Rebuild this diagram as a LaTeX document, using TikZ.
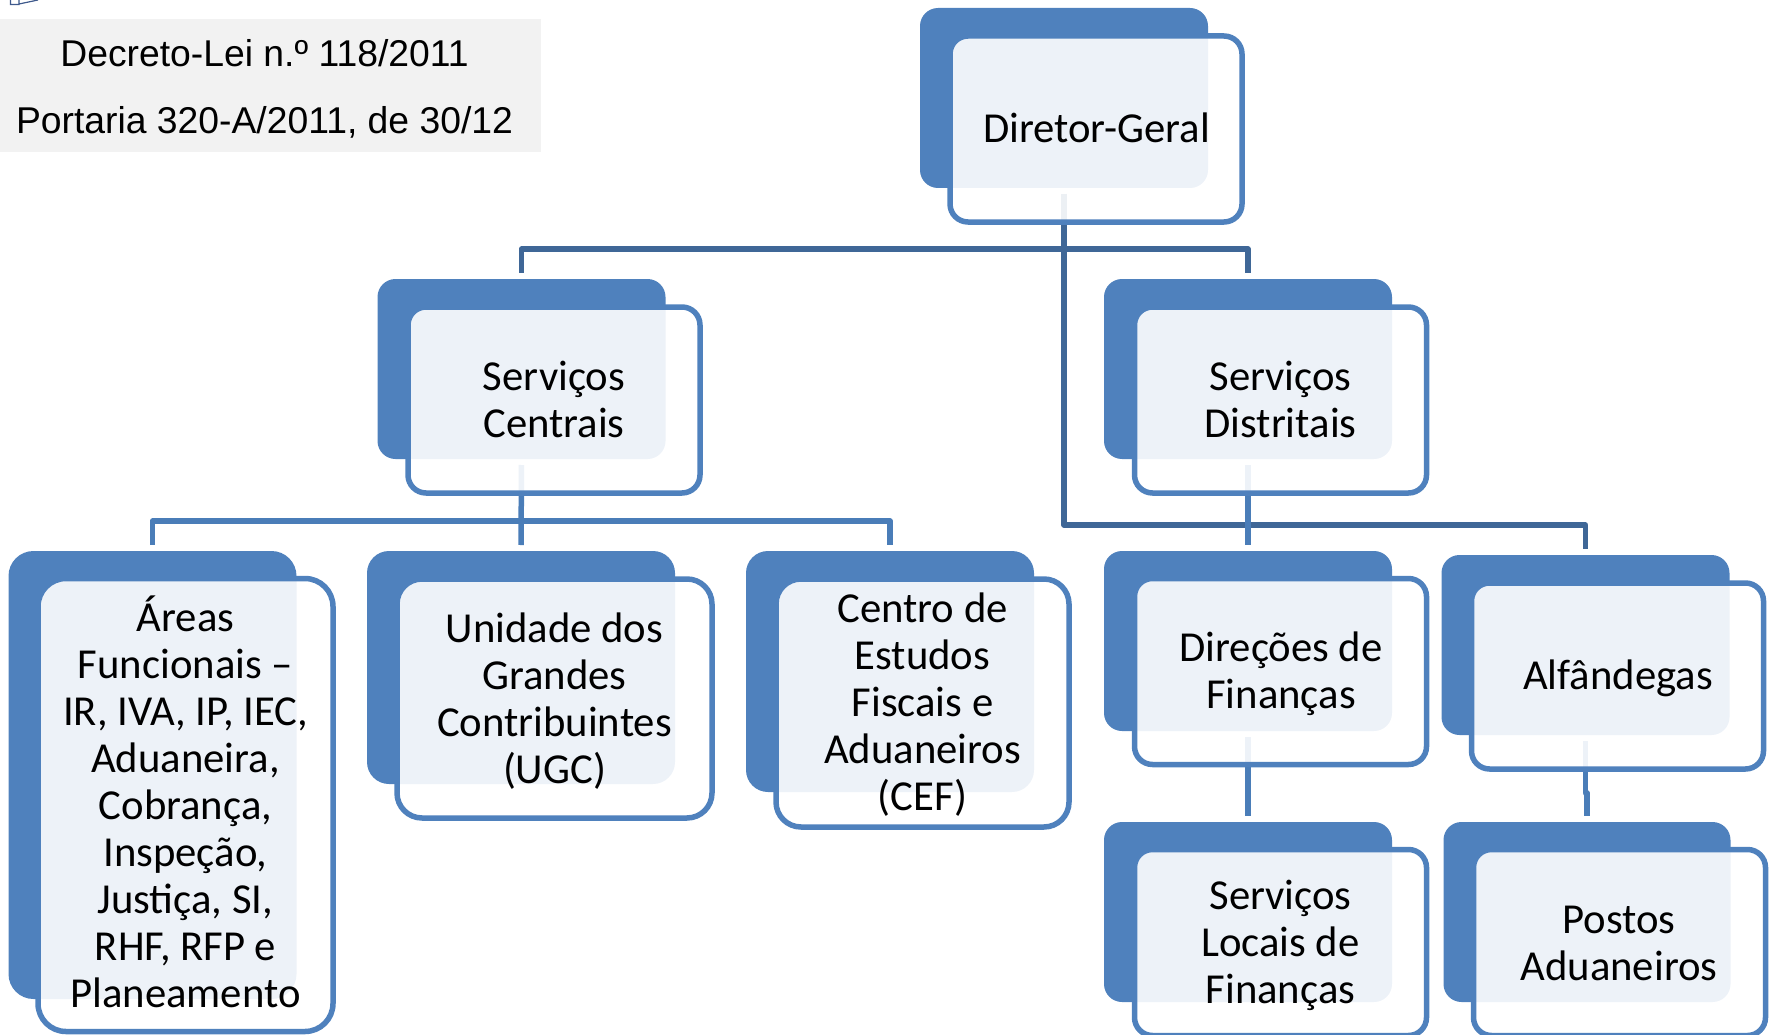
\documentclass[tikz,border=0pt]{standalone}
\usepackage{fontspec}
\setmainfont{Carlito}
\newfontfamily\legendfont{Liberation Sans}
\pgfdeclarelayer{background}
\pgfsetlayers{background,main}
\definecolor{boxblue}{HTML}{4F81BD}
\definecolor{conndark}{HTML}{3F6797}
\definecolor{connmid}{HTML}{4A7DB8}
\definecolor{legendgray}{HTML}{F2F2F2}
\definecolor{icon}{HTML}{3F5A8C}
\tikzset{
  backbox/.style={rectangle,rounded corners=#1,fill=boxblue,draw=none,inner sep=0pt,outer sep=0pt},
  backbox/.default=18pt,
  frontbox/.style={rectangle,rounded corners=#1,draw=boxblue,line width=5.5pt,fill=white,fill opacity=0.9,draw opacity=1,
    inner sep=0pt,outer sep=0pt},
  frontbox/.default=18pt,
  boxtext/.style={inner sep=0pt,align=center,text=black,font=\fontsize{42.7}{47}\selectfont},
  conn/.style={line width=5.5pt,shorten <=6pt,shorten >=6pt,line join=round},
  legendbox/.style={fill=legendgray,draw=none,inner sep=0pt,outer sep=0pt,minimum width=541pt,minimum height=133pt},
  legendtext/.style={inner sep=0pt,text=black,font=\legendfont\fontsize{37.3}{42}\selectfont},
}
\begin{document}
\begin{tikzpicture}[x=1pt,y=-1pt]
\useasboundingbox (0,0) rectangle (1774,1035);
% legend
\draw[icon,line width=1.2pt] (10.5,0) -- (10.5,4.5) -- (19,4.5) -- (19,0) (19,4) -- (38,0);
\node[legendbox] (leg) at (270.5,85.5) {};
\node[legendtext] (l1) at (264.5,53) {Decreto-Lei n.º 118/2011};
\node[legendtext] (l2) at (264.5,122) {Portaria 320-A/2011, de 30/12};
% back boxes
\node[backbox,minimum width=288pt,minimum height=180pt] (dgb) at (1064,98) {};
\node[backbox,minimum width=288pt,minimum height=180pt] (scb) at (521.5,369) {};
\node[backbox,minimum width=288pt,minimum height=180pt] (sdb) at (1248,369) {};
\node[backbox=25pt,minimum width=288pt,minimum height=448pt] (areb) at (152.5,775) {};
\node[backbox=22pt,minimum width=308pt,minimum height=233pt] (ugcb) at (521,667.5) {};
\node[backbox=22pt,minimum width=288pt,minimum height=241pt] (cefb) at (890,671.5) {};
\node[backbox,minimum width=288pt,minimum height=180pt] (dirb) at (1248,641) {};
\node[backbox,minimum width=288pt,minimum height=180pt] (alfb) at (1585.5,645) {};
\node[backbox,minimum width=288pt,minimum height=180pt] (slfb) at (1248,912) {};
\node[backbox,minimum width=287pt,minimum height=180pt] (posb) at (1587,912) {};
% front boxes
\node[frontbox,minimum width=292pt,minimum height=186pt] (dg) at (1096,129) {};
\node[frontbox,minimum width=292pt,minimum height=186pt] (sc) at (554,400) {};
\node[frontbox,minimum width=292pt,minimum height=186pt] (sd) at (1280.5,400) {};
\node[frontbox=28pt,minimum width=295pt,minimum height=453pt] (are) at (185.5,805) {};
\node[frontbox=25pt,minimum width=315pt,minimum height=239pt] (ugc) at (554.5,698.5) {};
\node[frontbox=25pt,minimum width=293pt,minimum height=248pt] (cef) at (922.5,703) {};
\node[frontbox,minimum width=292pt,minimum height=186pt] (dir) at (1280.5,671.5) {};
\node[frontbox,minimum width=292pt,minimum height=186pt] (alf) at (1617.5,676) {};
\node[frontbox,minimum width=292pt,minimum height=186pt] (slf) at (1280.5,942.5) {};
\node[frontbox,minimum width=292pt,minimum height=186pt] (pos) at (1619.5,942.5) {};
% texts
\node[boxtext] (dgt) at (1096.5,128) {Diretor-Geral};
\node[boxtext] (sct) at (554,399) {Serviços\\Centrais};
\node[boxtext] (sdt) at (1280.5,399) {Serviços\\Distritais};
\node[boxtext] (aret) at (185.5,802) {Áreas\\Funcionais –\\IR, IVA, IP, IEC,\\Aduaneira,\\Cobrança,\\Inspeção,\\Justiça, SI,\\RHF, RFP e\\Planeamento};
\node[boxtext] (ugct) at (554.5,701) {Unidade dos\\Grandes\\Contribuintes\\(UGC)};
\node[boxtext] (ceft) at (922.5,705) {Centro de\\Estudos\\Fiscais e\\Aduaneiros\\(CEF)};
\node[boxtext] (dirt) at (1281,673.5) {Direções de\\Finanças};
\node[boxtext] (alft) at (1618,678) {Alfândegas};
\node[boxtext] (slft) at (1280.5,945.5) {Serviços\\Locais de\\Finanças};
\node[boxtext] (post) at (1619,943.5) {Postos\\Aduaneiros};
% connectors
\coordinate (busa) at (0,249);
\coordinate (busb) at (0,525);
\coordinate (busc) at (0,521);
\coordinate (jog) at (1587,793);
\begin{pgfonlayer}{background}
\draw[conn,conndark] (dgb.south) -- (dgb.south |- busa) -| (scb.north);
\draw[conn,conndark] (dgb.south) -- (dgb.south |- busa) -| (sdb.north);
\draw[conn,conndark] (dgb.south) -- (dgb.south |- busb) -| (alfb.north);
\draw[conn,connmid] (scb.south) -- (scb.south |- busc) -| (areb.north);
\draw[conn,connmid] (scb.south) -- (ugcb.north);
\draw[conn,connmid] (scb.south) -- (scb.south |- busc) -| (cefb.north);
\draw[conn,connmid] (sdb.south) -- (dirb.north);
\draw[conn,connmid] (dirb.south) -- (slfb.north);
\draw[conn,connmid] (alfb.south) |- (jog) -- (posb.north);
\end{pgfonlayer}
\end{tikzpicture}
\end{document}
